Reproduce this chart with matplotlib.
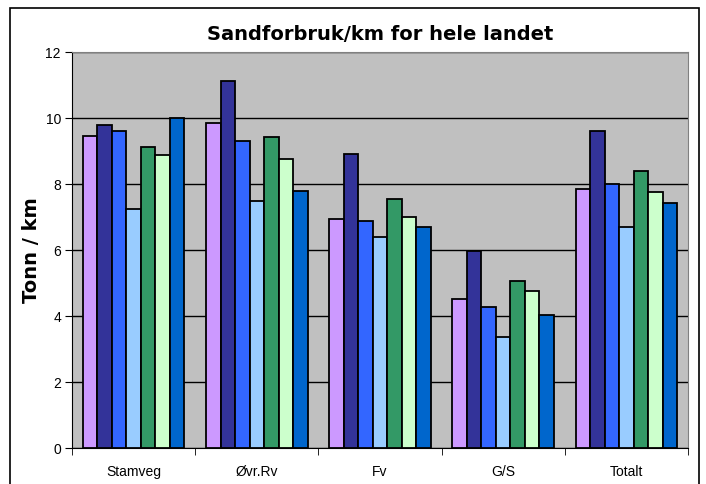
import numpy as np
import matplotlib.pyplot as plt
from matplotlib.patches import Rectangle

categories = ["Stamveg", "Øvr.Rv", "Fv", "G/S", "Totalt"]
series = [
    [9.45, 9.85, 6.95, 4.52, 7.86],
    [9.79, 11.13, 8.90, 5.98, 9.62],
    [9.61, 9.31, 6.89, 4.28, 7.99],
    [7.24, 7.49, 6.39, 3.36, 6.70],
    [9.12, 9.43, 7.55, 5.07, 8.39],
    [8.88, 8.77, 7.01, 4.77, 7.75],
    [9.99, 7.80, 6.71, 4.04, 7.43],
]
colors = ["#CC99FF", "#333399", "#3366FF", "#99CCFF", "#339966", "#CCFFCC", "#0066CC"]
yticks = [0, 2, 4, 6, 8, 10, 12]

plt.rcParams['font.family'] = ['Liberation Sans', 'DejaVu Sans']

fig = plt.figure(figsize=(7.06, 4.84), dpi=100)
ax = fig.add_axes([72/706, 1-448/484, 616/706, 396/484])

# outer frame
fig.patches.append(Rectangle((10/706, -0.1), 689/706, 1.1-8/484, transform=fig.transFigure,
                             fill=False, edgecolor='black', linewidth=1.2))

n = len(series)
w = 1/(n+1.5)
x = np.arange(len(categories))
for i, (vals, c) in enumerate(zip(series, colors)):
    ax.bar(x + (i-(n-1)/2)*w, vals, width=w, color=c, edgecolor='black', linewidth=1.3, zorder=3)

ax.set_facecolor('#C0C0C0')
ax.set_xlim(-0.5, len(categories)-0.5)
ax.set_ylim(0, 12)
ax.set_yticks(yticks)
ax.set_yticklabels([str(t) for t in yticks], fontsize=10)
ax.yaxis.grid(True, color='black', linewidth=1)
ax.set_axisbelow(True)
ax.set_xticks(x)
ax.set_xticklabels(categories, fontsize=10)
ax.set_xticks(np.arange(len(categories)+1)-0.5, minor=True)
ax.tick_params(axis='x', which='major', length=0, pad=12)
ax.tick_params(axis='x', which='minor', length=5, direction='out')
ax.tick_params(axis='y', length=5, direction='out', pad=3)
for s in ['top', 'right']:
    ax.spines[s].set_color('#808080')
ax.spines['left'].set_color('black')
ax.spines['bottom'].set_color('black')

ax.set_ylabel("Tonn / km", fontsize=14, fontweight='bold', family=['DejaVu Sans'], labelpad=3)
ax.set_title("Sandforbruk/km for hele landet", fontsize=14, fontweight='bold',
             family=['DejaVu Sans'], pad=9)

fig.savefig("out.png", dpi=100)
